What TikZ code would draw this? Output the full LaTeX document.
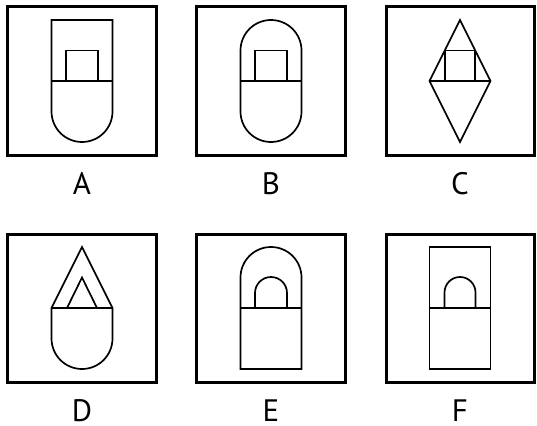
\documentclass[tikz,border=0pt]{standalone}
\usepackage{fontspec}
\setmainfont{PT Sans}
\usetikzlibrary{positioning}
\tikzset{
  quadro/.style={draw=black, line width=3pt},
  figura/.style={draw=black, line width=1.7pt, line join=miter},
  rotulo/.style={font=\fontsize{31}{34}\selectfont, inner sep=0pt, anchor=base},
}

\begin{document}
\begin{tikzpicture}[x=1pt, y=-1pt]
        \useasboundingbox (0,0) rectangle (537,425);
        % ---------------- painel A ----------------
        \begin{scope}[shift={(82,81)}]
          \draw[quadro] (-74.5,-74) rectangle (74.5,74);
          \draw[figura] (-30.5,0) -- (-30.5,-61) -- (30.5,-61) -- (30.5,30.5)
                        arc[start angle=0, end angle=180, radius=30.5] -- cycle;
          \draw[figura] (-30.5,0) -- (30.5,0);
          \draw[figura] (-16,0) -- (-16,-30.5) -- (16,-30.5) -- (16,0);
          \node[rotulo] (a) at (0,113) {A};
        \end{scope}
        % ---------------- painel B ----------------
        \begin{scope}[shift={(271,81)}]
          \draw[quadro] (-74.5,-74) rectangle (74.5,74);
          \draw[figura] (-30.5,-30.5) arc[start angle=180, end angle=360, radius=30.5]
                        -- (30.5,30.5) arc[start angle=0, end angle=180, radius=30.5] -- cycle;
          \draw[figura] (-30.5,0) -- (30.5,0);
          \draw[figura] (-16,0) -- (-16,-30.5) -- (16,-30.5) -- (16,0);
          \node[rotulo] (b) at (0,113) {B};
        \end{scope}
        % ---------------- painel C ----------------
        \begin{scope}[shift={(460,81)}]
          \draw[quadro] (-74,-74) rectangle (74,74);
          \draw[figura] (0,-61) -- (-30.5,0) -- (0,61) -- (30.5,0) -- cycle;
          \draw[figura] (-30.5,0) -- (30.5,0);
          \draw[figura] (-15.25,0) -- (-15.25,-30.5) -- (15.25,-30.5) -- (15.25,0);
          \node[rotulo] (c) at (0,113) {C};
        \end{scope}
        % ---------------- painel D ----------------
        \begin{scope}[shift={(82,308)}]
          \draw[quadro] (-74.5,-74) rectangle (74.5,74);
          \draw[figura] (-30.5,0) -- (0,-61) -- (30.5,0) -- (30.5,30.5)
                        arc[start angle=0, end angle=180, radius=30.5] -- cycle;
          \draw[figura] (-30.5,0) -- (30.5,0);
          \draw[figura] (-15,0) -- (0,-30.5) -- (15,0);
          \node[rotulo] (d) at (0,113.5) {D};
        \end{scope}
        % ---------------- painel E ----------------
        \begin{scope}[shift={(271,308)}]
          \draw[quadro] (-74.5,-74) rectangle (74.5,74);
          \draw[figura] (-30.5,61) -- (-30.5,-30.5) arc[start angle=180, end angle=360, radius=30.5]
                        -- (30.5,61) -- cycle;
          \draw[figura] (-30.5,0) -- (30.5,0);
          \draw[figura] (-16,0) -- (-16,-15) arc[start angle=180, end angle=360, radius=16] -- (16,0);
          \node[rotulo] (e) at (0,113.5) {E};
        \end{scope}
        % ---------------- painel F ----------------
        \begin{scope}[shift={(460,308)}]
          \draw[quadro] (-74,-74) rectangle (74,74);
          \draw[figura] (-30.5,-61) rectangle (30.5,61);
          \draw[figura] (-30.5,0) -- (30.5,0);
          \draw[figura] (-15.5,0) -- (-15.5,-15.5) arc[start angle=180, end angle=360, radius=15.5] -- (15.5,0);
          \node[rotulo] (f) at (0,113.5) {F};
        \end{scope}
    \end{tikzpicture}
\end{document}
